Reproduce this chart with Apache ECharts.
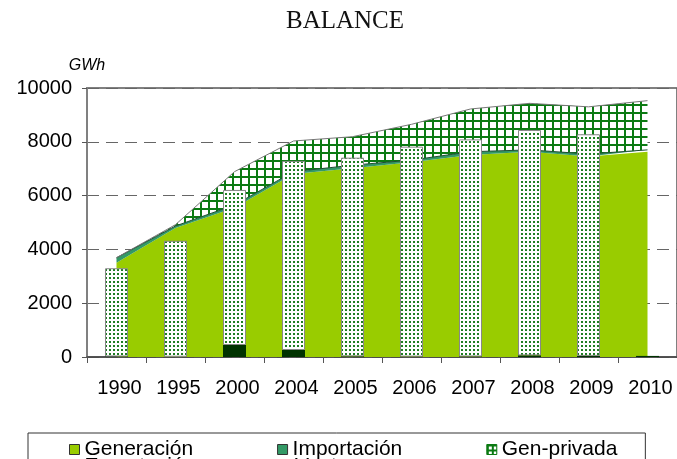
<!DOCTYPE html>
<html>
<head>
<meta charset="utf-8">
<script src="https://cdn.jsdelivr.net/npm/echarts@6/dist/echarts.min.js"></script>
<style>
html,body{margin:0;padding:0;background:#fff;}
#c{width:677px;height:459px;}
</style>
</head>
<body>
<div id="c"></div>
<script>
const categories = ['1990','1995','2000','2004','2005','2006','2007','2008','2009','2010'];
const generacion = [3500, 4800, 5550, 6800, 7020, 7240, 7510, 7630, 7450, 7630];
const importacion = [190, 70, 100, 90, 110, 80, 120, 70, 95, 70];
const genPrivada = [0, 50, 1240, 1140, 1060, 1330, 1590, 1730, 1755, 1830];
const exportacion = [20, 10, 446, 260, 25, 15, 20, 60, 40, 40];
const ventas = [3280, 4310, 5764, 7030, 7385, 7805, 8070, 8380, 8240, null];
const yTicks = [0, 2000, 4000, 6000, 8000, 10000];

function gridPattern() {
  const c = document.createElement('canvas');
  c.width = 8; c.height = 8;
  const g = c.getContext('2d');
  g.fillStyle = '#ffffff'; g.fillRect(0, 0, 8, 8);
  g.fillStyle = '#0b7a12';
  g.fillRect(0, 0, 8, 2);
  g.fillRect(0, 0, 2, 8);
  return {image: c, repeat: 'repeat'};
}
function iconPattern() {
  const c = document.createElement('canvas');
  c.width = 5; c.height = 5;
  const g = c.getContext('2d');
  g.fillStyle = '#ffffff'; g.fillRect(0, 0, 5, 5);
  g.fillStyle = '#0b7a12';
  g.fillRect(0, 0, 5, 2);
  g.fillRect(0, 0, 2, 5);
  return {image: c, repeat: 'repeat'};
}
function dotPattern() {
  const c = document.createElement('canvas');
  c.width = 4; c.height = 4;
  const g = c.getContext('2d');
  g.fillStyle = '#ffffff'; g.fillRect(0, 0, 4, 4);
  g.fillStyle = '#1e7e22';
  g.fillRect(1, 1, 2, 2);
  return {image: c, repeat: 'repeat'};
}
const hatch = gridPattern();
const hatchIcon = iconPattern();
const dots = dotPattern();

const chart = echarts.init(document.getElementById('c'), null, {renderer: 'canvas'});
const fontSans = 'Liberation Sans, Arial, sans-serif';

chart.setOption({
  animation: false,
  backgroundColor: '#ffffff',
  title: {
    text: 'BALANCE',
    left: 286, top: 9, padding: 0,
    textStyle: {fontFamily: 'Liberation Serif, Times New Roman, serif', fontWeight: 'normal', fontSize: 25, color: '#111'}
  },
  grid: {
    left: 87, top: 88, width: 597, height: 269,
    show: true, borderColor: '#808080', borderWidth: 2, backgroundColor: 'transparent'
  },
  legend: [{
    data: [
      {name: 'Generación', itemStyle: {color: '#99cc00', borderColor: '#333', borderWidth: 1}},
      {name: 'Importación', itemStyle: {color: '#339966', borderColor: '#333', borderWidth: 1}},
      {name: 'Gen-privada', itemStyle: {color: hatchIcon, borderColor: '#0b7a12', borderWidth: 1}}
    ],
    left: 28, top: 433,
    padding: [6, 28, 30, 41],
    borderColor: '#333', borderWidth: 1,
    icon: 'rect', itemWidth: 10, itemHeight: 10, itemGap: 84,
    textStyle: {fontFamily: fontSans, fontSize: 21, color: '#000', width: 115, overflow: 'none'}
  }, {
    data: [
      {name: 'Exportación', itemStyle: {color: '#003300', borderColor: '#333', borderWidth: 1}},
      {name: 'Ventas', itemStyle: {color: dots, borderColor: '#666', borderWidth: 1}}
    ],
    left: 69, top: 456, padding: 0,
    icon: 'rect', itemWidth: 10, itemHeight: 10, itemGap: 84,
    textStyle: {fontFamily: fontSans, fontSize: 21, color: '#000', width: 115, overflow: 'none'}
  }],
  xAxis: {
    type: 'category',
    data: categories,
    boundaryGap: true,
    axisLine: {lineStyle: {color: '#444', width: 1.5}},
    axisTick: {show: true, length: 6, lineStyle: {color: '#555'}},
    axisLabel: {interval: 0, margin: 21, fontFamily: fontSans, fontSize: 20, color: '#000', padding: [0, 0, 0, 6]}
  },
  yAxis: {
    type: 'value',
    min: yTicks[0], max: yTicks[yTicks.length - 1], interval: 2000,
    name: 'GWh', nameLocation: 'end', nameGap: 14,
    nameTextStyle: {fontFamily: fontSans, fontStyle: 'italic', fontSize: 16, color: '#000', align: 'center'},
    axisLine: {show: true, lineStyle: {color: '#808080', width: 2}},
    axisTick: {show: true, length: 5, lineStyle: {color: '#555'}},
    axisLabel: {margin: 15, fontFamily: fontSans, fontSize: 20, color: '#000', formatter: function (v) { return String(v); }},
    splitLine: {show: true, lineStyle: {color: '#666', width: 1, type: [12, 7]}}
  },
  series: [
    {
      name: 'Generación', type: 'line', stack: 'area', data: generacion,
      symbol: 'none', lineStyle: {width: 0}, itemStyle: {color: '#99cc00'},
      areaStyle: {color: '#99cc00', opacity: 1}, z: 2
    },
    {
      name: 'Importación', type: 'line', stack: 'area', data: importacion,
      symbol: 'none', lineStyle: {width: 1, color: '#1d4d33'}, itemStyle: {color: '#339966'},
      areaStyle: {color: '#339966', opacity: 1}, z: 2
    },
    {
      name: 'Gen-privada', type: 'line', stack: 'area', data: genPrivada,
      symbol: 'none', lineStyle: {width: 1, color: '#777'}, itemStyle: {color: '#0b7a12'},
      areaStyle: {color: hatch, opacity: 1}, z: 2
    },
    {
      name: 'Exportación', type: 'bar', stack: 'bar', data: exportacion,
      barWidth: 23, itemStyle: {color: '#003300'}, z: 3
    },
    {
      name: 'Ventas', type: 'bar', stack: 'bar', data: ventas,
      barWidth: 23, itemStyle: {color: dots, borderColor: '#888', borderWidth: 1}, z: 3
    }
  ]
});
</script>
</body>
</html>
